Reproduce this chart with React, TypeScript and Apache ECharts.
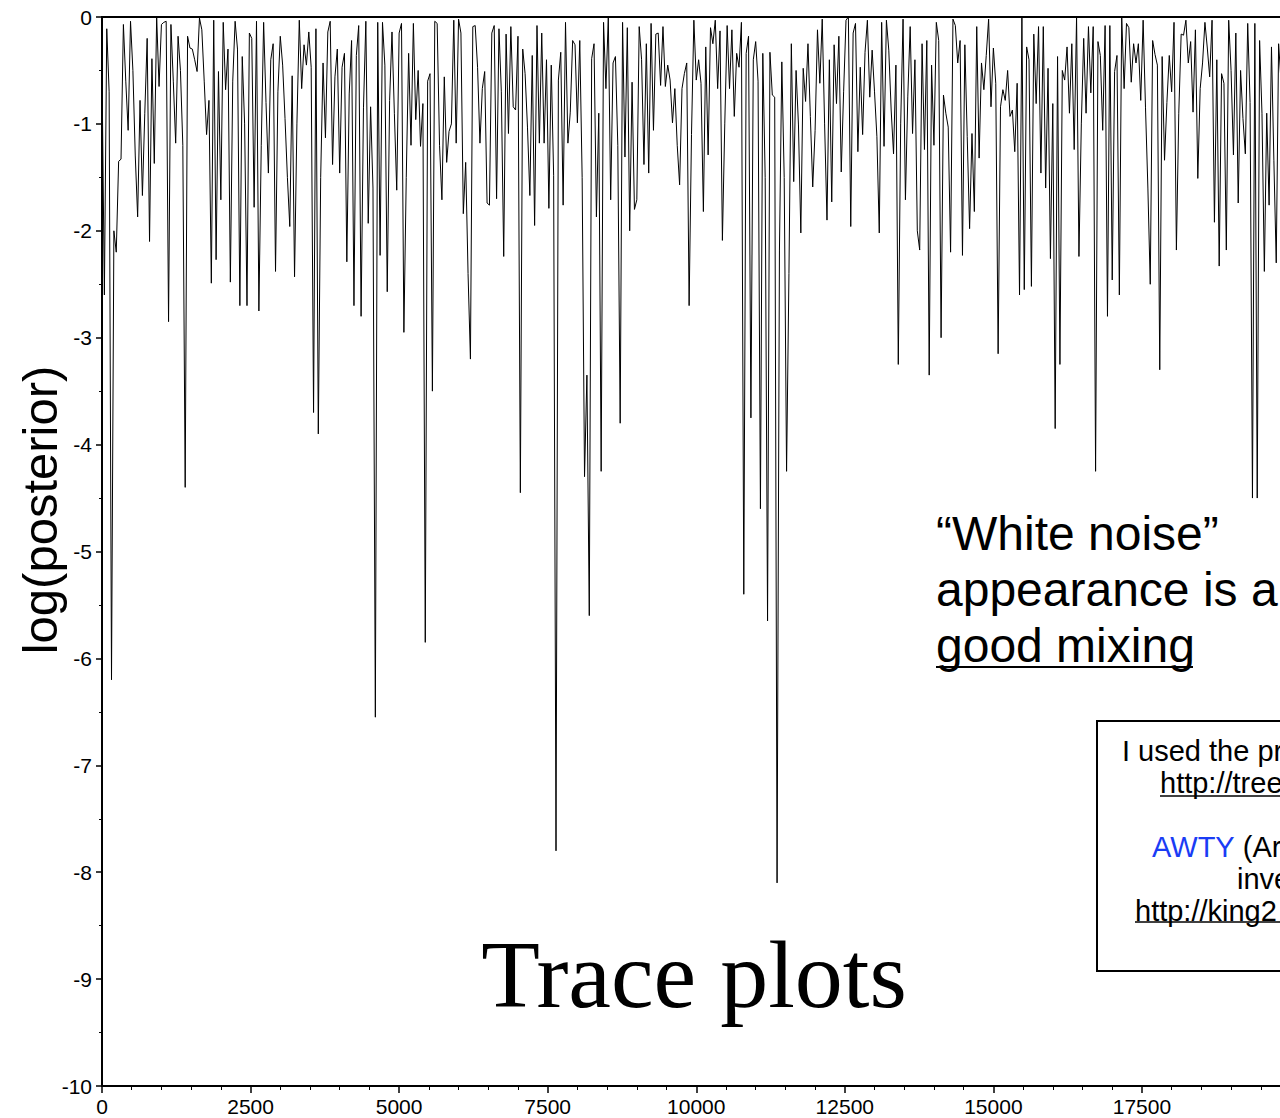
import React, { useEffect, useRef } from "react";
import * as echarts from "echarts";

// MCMC sampling step (generations between samples)
const STEP = 40;

// log(posterior) samples, one per STEP generations
const samples: number[] = [
  -0.5, -2.6, -0.11, -0.7, -6.2, -2.0, -2.2, -1.35, -1.33, -0.07, -0.6, -1.06, -0.04, -0.5, -1.3, -1.87, -0.78, -1.67, -0.9, -0.2, -2.1, -0.39, -1.37, 0, -0.65,
  -0.07, -0.05, -0.04, -2.85, -0.07, -0.6, -1.18, -0.18, -0.5, -1.2, -4.4, -0.18, -0.29, -0.3, -0.4, -0.51, -0.01, -0.12, -0.6, -1.1, -0.78, -2.49, -0.03, -2.27, -0.51,
  -1.71, -0.05, -0.68, -0.3, -2.48, -0.6, -0.04, -0.3, -2.7, -0.37, -1.0, -2.7, -0.15, -0.2, -1.78, -0.04, -2.75, -1.2, -0.05, -0.8, -1.46, -0.4, -0.25, -2.38, -0.7,
  -0.18, -0.45, -0.95, -1.5, -1.96, -0.55, -2.43, -1.0, -0.03, -0.67, -0.26, -0.45, -0.14, -0.47, -3.7, -0.11, -3.9, -1.5, -0.43, -1.13, -0.14, -0.04, -1.38, -0.56, -0.3,
  -1.46, -0.47, -0.34, -2.29, -0.72, -0.22, -2.7, -0.36, -0.08, -2.8, -0.85, -0.04, -1.93, -0.84, -1.6, -6.55, -0.05, -2.23, -0.05, -0.45, -2.57, -0.78, -0.14, -0.9, -1.62,
  -0.15, -0.06, -2.95, -1.5, -0.34, -1.2, -0.06, -0.96, -0.5, -1.21, -0.81, -5.85, -0.6, -0.53, -3.5, -0.04, -0.06, -1.2, -1.71, -0.56, -1.36, -1.07, -1.0, -0.03, -1.18,
  -0.02, -0.15, -1.84, -1.36, -2.4, -3.2, -0.09, -0.08, -0.47, -1.18, -0.67, -0.51, -1.74, -1.76, -0.15, -0.08, -1.7, -0.11, -0.7, -2.24, -0.16, -1.09, -0.09, -0.84, -0.87,
  -0.18, -4.45, -0.3, -0.53, -1.03, -1.67, -0.36, -1.95, -0.08, -1.18, -0.15, -1.18, -0.4, -1.79, -0.45, -1.48, -7.8, -0.59, -0.33, -1.76, -0.05, -1.18, -0.89, -0.22, -0.26,
  -0.99, -0.22, -1.5, -4.3, -3.35, -5.6, -0.39, -0.25, -1.87, -0.9, -4.25, -0.05, -0.67, 0, -1.71, -0.43, -0.37, -1.2, -3.8, -0.05, -1.31, -0.1, -2.0, -0.61, -1.8,
  -1.71, -0.09, -0.4, -1.38, -0.25, -1.46, -0.06, -1.06, -0.16, -0.15, -0.64, -0.09, -0.65, -0.45, -0.59, -0.99, -0.67, -1.2, -1.57, -0.67, -0.53, -0.43, -2.7, -1.1, -0.03,
  -0.59, -0.4, -0.62, -1.82, -0.28, -1.29, -0.1, -0.25, -0.03, -0.67, -0.13, -2.09, -1.0, -0.08, -0.67, -0.12, -0.93, -0.34, -0.47, -0.05, -5.4, -0.34, -0.18, -3.75, -0.4,
  -0.23, -0.6, -4.6, -0.34, -1.5, -5.65, -0.33, -0.73, -0.75, -8.1, -2.18, -0.42, -1.5, -4.25, -2.4, -0.25, -1.54, -0.5, -1.01, -2.02, -0.48, -0.79, -0.25, -0.93, -1.59,
  -1.06, -0.12, -0.62, -0.02, -1.0, -1.9, -0.4, -1.73, -0.26, -0.81, -0.18, -1.45, -0.7, -0.03, 0, -1.96, -0.15, -0.06, -1.26, -0.47, -1.1, -0.33, -0.03, -0.75, -0.31,
  -0.7, -1.12, -2.02, -0.05, -1.21, -0.03, -0.31, -0.87, -1.28, -0.45, -3.25, -1.0, -0.02, -1.71, -0.74, -0.09, -1.09, -0.4, -2.0, -2.18, -0.25, -1.24, -0.22, -3.35, -0.45,
  -1.2, -0.05, -0.22, -3.0, -0.73, -0.9, -1.03, -2.2, -0.02, -0.08, -0.43, -0.22, -2.23, -0.26, -1.12, -1.98, -1.09, -1.82, -0.09, -1.32, -0.43, -0.68, -0.36, -0.02, -0.84,
  -0.29, -0.62, -3.15, -0.84, -0.68, -0.78, -0.5, -0.93, -0.87, -1.26, -0.62, -2.6, 0, -2.55, -0.28, -0.4, -2.52, -0.16, -0.81, -0.09, -1.46, -0.09, -1.6, -0.48, -2.26,
  -0.81, -3.85, -0.37, -3.25, -0.5, -0.59, -0.28, -0.9, -0.25, -1.24, 0, -2.24, -1.0, -0.2, -0.9, -0.09, -0.71, -0.09, -4.25, -0.23, -0.36, -1.06, -0.08, -2.8, -0.08,
  -2.46, -0.51, -0.36, -2.6, 0, -0.67, -0.06, -0.1, -0.61, -0.25, -0.43, -0.25, -0.78, -0.03, -0.85, -1.6, -2.5, -0.22, -0.35, -0.45, -3.3, -0.37, -1.34, -0.8, -0.36,
  -0.7, -0.05, -2.18, -0.9, -0.16, -0.17, -0.03, -0.43, -0.23, -0.89, -0.12, -1.51, -0.67, -0.43, -0.05, -0.29, -0.56, -0.03, -1.92, -0.4, -2.33, -0.53, -0.62, -2.18, -0.03,
  -0.5, -1.29, -0.15, -1.74, -0.5, -0.95, -1.28, -0.06, -0.8, -4.5, -0.06, -4.5, -0.22, -0.9, -2.38, -0.9, -1.76, -0.28, -1.34, -2.3, -0.25, -0.6, -1.1, -0.2, -0.9,
  -0.4,
];

// axis ranges / tick settings
const X_MIN = 0;
const X_MAX = 20000;
const X_INTERVAL = 2500;
const Y_MIN = -10;
const Y_MAX = 0;
const Y_INTERVAL = 1;

// texts (the box is cut by the right edge of the picture; only its visible part is kept)
const yTitle = "log(posterior)";
const mainTitle = "Trace plots";
const noteLines = ["\u201CWhite noise\u201D", "appearance is a", "good mixing"];
const boxLine1 = "I used the pr";
const boxLine2 = "http://tree";
const boxLine4Key = "AWTY";
const boxLine4Rest = " (Ar";
const boxLine5 = "inve";
const boxLine6 = "http://king2";

const SANS = "'Liberation Sans', Arial, Helvetica, sans-serif";
const SERIF = "'Liberation Serif', 'Times New Roman', Times, serif";

const CHART_W = 1400;
const CHART_H = 1118;
const BOX_FONT = 29;

export default function App() {
  const ref = useRef<HTMLDivElement>(null);

  useEffect(() => {
    if (!ref.current) return;
    const chart = echarts.init(ref.current, undefined, { renderer: "svg" });
    const data = samples.map((v, i) => [i * STEP, v]);

    const boxText = (text: string, x: number, y: number) => ({
      type: "text",
      x,
      y,
      z: 11,
      style: { text, font: `${BOX_FONT}px ${SANS}`, fill: "#000", align: "left", verticalAlign: "middle" },
    });

    const option: any = {
      animation: false,
      backgroundColor: "#ffffff",
      grid: {
        left: 102,
        top: 17,
        bottom: 32,
        right: CHART_W - 1290.5,
        show: true,
        borderColor: "#000",
        borderWidth: 2,
        backgroundColor: "transparent",
      },
      xAxis: {
        type: "value",
        min: X_MIN,
        max: X_MAX,
        interval: X_INTERVAL,
        axisLine: { show: true, onZero: false, lineStyle: { color: "#000", width: 2 } },
        axisTick: { show: true, length: 7, lineStyle: { color: "#000", width: 1.5 } },
        minorTick: { show: true, splitNumber: 5, length: 4, lineStyle: { color: "#000", width: 1 } },
        splitLine: { show: false },
        minorSplitLine: { show: false },
        axisLabel: {
          showMaxLabel: false,
          margin: 10,
          fontSize: 21,
          color: "#000",
          fontFamily: SANS,
          formatter: (v: number) => String(v),
        },
      },
      yAxis: {
        type: "value",
        min: Y_MIN,
        max: Y_MAX,
        interval: Y_INTERVAL,
        axisLine: { show: true, onZero: false, lineStyle: { color: "#000", width: 2 } },
        axisTick: { show: true, length: 6, lineStyle: { color: "#000", width: 1.5 } },
        minorTick: { show: true, splitNumber: 2, length: 3, lineStyle: { color: "#000", width: 1 } },
        splitLine: { show: false },
        minorSplitLine: { show: false },
        axisLabel: {
          margin: 10,
          fontSize: 21,
          color: "#000",
          fontFamily: SANS,
          formatter: (v: number) => String(v),
        },
      },
      series: [
        {
          type: "line",
          data,
          symbol: "none",
          showSymbol: false,
          silent: true,
          lineStyle: { color: "#000", width: 1 },
          z: 3,
        },
      ],
      graphic: [
        {
          type: "text",
          x: 40,
          y: 510,
          rotation: Math.PI / 2,
          style: {
            text: yTitle,
            font: `49px ${SANS}`,
            fill: "#000",
            align: "center",
            verticalAlign: "middle",
          },
        },
        {
          type: "text",
          x: 694,
          y: 974,
          style: {
            text: mainTitle,
            font: `96px ${SERIF}`,
            fill: "#000",
            align: "center",
            verticalAlign: "middle",
          },
        },
        ...noteLines.map((t, i) => ({
          type: "text",
          x: 936,
          y: 533 + i * 56,
          style: {
            text: t,
            font: `48px ${SANS}`,
            fill: "#000",
            align: "left",
            verticalAlign: "middle",
          },
        })),
        {
          type: "line",
          shape: { x1: 936, y1: 667, x2: 1193, y2: 667 },
          style: { stroke: "#000", lineWidth: 2 },
        },
        {
          type: "rect",
          shape: { x: 1097, y: 721, width: 420, height: 250 },
          style: { fill: "#fff", stroke: "#000", lineWidth: 2 },
          z: 10,
        },
        boxText(boxLine1, 1122, 751),
        boxText(boxLine2, 1160, 783),
        {
          type: "line",
          z: 11,
          shape: { x1: 1160, y1: 796, x2: 1290, y2: 796 },
          style: { stroke: "#000", lineWidth: 1.5 },
        },
        {
          type: "text",
          x: 1152,
          y: 847,
          z: 11,
          style: {
            text: `{k|${boxLine4Key}}${boxLine4Rest}`,
            font: `${BOX_FONT}px ${SANS}`,
            fill: "#000",
            align: "left",
            verticalAlign: "middle",
            rich: {
              k: { fill: "#1a3cf5", font: `${BOX_FONT}px ${SANS}` },
            },
          },
        },
        boxText(boxLine5, 1237, 879),
        boxText(boxLine6, 1135, 911),
        {
          type: "line",
          z: 11,
          shape: { x1: 1135, y1: 922, x2: 1290, y2: 922 },
          style: { stroke: "#000", lineWidth: 1.5 },
        },
      ],
    };

    chart.setOption(option);
    return () => {
      chart.dispose();
    };
  }, []);

  return (
    <div
      style={{
        position: "absolute",
        left: 0,
        top: 0,
        width: 1280,
        height: CHART_H,
        overflow: "hidden",
        background: "#fff",
      }}
    >
      <div ref={ref} style={{ width: CHART_W, height: CHART_H }} />
    </div>
  );
}
